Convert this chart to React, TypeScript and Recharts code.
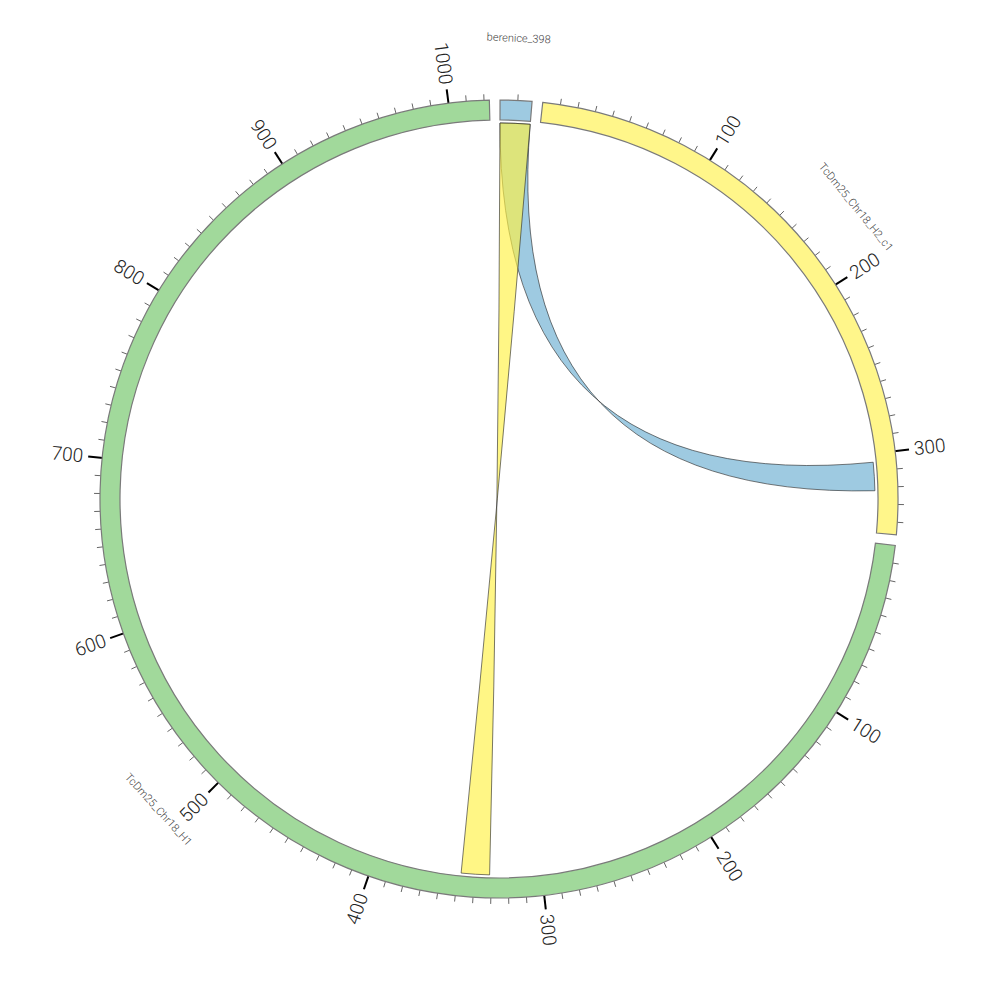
import React from 'react';
import { PieChart, Pie, Cell } from 'recharts';

// ---- data ----
const segmentNames = ['berenice_398', 'TcDm25_Chr18_H2_c1', 'TcDm25_Chr18_H1'];
const segmentLengths = [18, 347, 1023];
const segmentColors = ['#9ecae1', '#fff68a', '#a1d99b'];

const linkFromSeg = ['berenice_398', 'berenice_398'];
const linkFromStart = [0, 0];
const linkFromEnd = [18, 18];
const linkToSeg = ['TcDm25_Chr18_H2_c1', 'TcDm25_Chr18_H1'];
const linkToStart = [322, 348];
const linkToEnd = [305, 331];
const linkColors = ['#9ecae1', 'rgb(255,241,67)'];
const linkOpacity = [1, 0.65];

const minorTickStep = 10;
const majorTickStep = 100;

// ---- layout ----
const W = 1000;
const H = 1000;
const CX = 491;
const CY = 491;
const R_OUT = 399;
const R_IN = 379;
const R_LINK = 376;
const GAP = 6;
const START_OFFSET = 0.15;

const totalUnits = segmentLengths.reduce((a, b) => a + b, 0) + GAP * segmentLengths.length;
const degPerUnit = 360 / totalUnits;

const pieData: { name: string; value: number; gap: boolean; color: string }[] = [];
segmentNames.forEach((n, i) => {
  pieData.push({ name: n, value: segmentLengths[i], gap: false, color: segmentColors[i] });
  pieData.push({ name: 'gap' + i, value: GAP, gap: true, color: 'none' });
});

function segStart(i: number) {
  let u = 0;
  for (let j = 0; j < i; j++) u += segmentLengths[j] + GAP;
  return START_OFFSET + u * degPerUnit;
}
function angleOf(seg: string, pos: number) {
  const i = segmentNames.indexOf(seg);
  return segStart(i) + pos * degPerUnit;
}
function pt(theta: number, r: number) {
  const a = (theta * Math.PI) / 180;
  return [CX + r * Math.sin(a), CY - r * Math.cos(a)];
}

function ribbonPath(k: number) {
  const s0 = angleOf(linkFromSeg[k], linkFromStart[k]);
  const s1 = angleOf(linkFromSeg[k], linkFromEnd[k]);
  const t0 = angleOf(linkToSeg[k], linkToStart[k]);
  const t1 = angleOf(linkToSeg[k], linkToEnd[k]);
  const r = R_LINK;
  const [x0, y0] = pt(s0, r);
  const [x1, y1] = pt(s1, r);
  const [x2, y2] = pt(t0, r);
  const [x3, y3] = pt(t1, r);
  const sw1 = s1 >= s0 ? 1 : 0;
  const sw2 = t1 >= t0 ? 1 : 0;
  return `M${x0},${y0} A${r},${r} 0 0 ${sw1} ${x1},${y1} Q${CX},${CY} ${x2},${y2} A${r},${r} 0 0 ${sw2} ${x3},${y3} Q${CX},${CY} ${x0},${y0} Z`;
}

const TICK_FONT = 'Roboto, "DejaVu Sans", sans-serif';

function TicksLayer() {
  const els: React.ReactNode[] = [];
  segmentNames.forEach((seg, i) => {
    for (let p = minorTickStep; p <= segmentLengths[i]; p += minorTickStep) {
      const th = angleOf(seg, p);
      const major = p % majorTickStep === 0;
      const [xa, ya] = pt(th, R_OUT - (major ? 1 : 0));
      const [xb, yb] = pt(th, R_OUT + (major ? 14 : 6));
      els.push(
        <line key={`t-${i}-${p}`} x1={xa} y1={ya} x2={xb} y2={yb}
          stroke={major ? '#000' : '#666'} strokeWidth={major ? 2 : 1} />
      );
      if (major) {
        const [lx, ly] = pt(th, 418);
        const right = th < 180;
        const rot = right ? th - 90 : th - 270;
        els.push(
          <text key={`l-${i}-${p}`} x={lx} y={ly} transform={`rotate(${rot} ${lx} ${ly})`}
            textAnchor={right ? 'start' : 'end'} dominantBaseline="central"
            fontFamily={TICK_FONT} fontWeight={300} fontSize={19} fill="#222">
            {p}
          </text>
        );
      }
    }
    const mid = angleOf(seg, segmentLengths[i] / 2);
    const [nx, ny] = pt(mid, 461);
    const nrot = mid > 90 && mid < 270 ? mid - 180 : mid;
    els.push(
      <text key={`n-${i}`} x={nx} y={ny} transform={`rotate(${nrot} ${nx} ${ny})`}
        textAnchor="middle" dominantBaseline="central"
        fontFamily={TICK_FONT} fontWeight={300} fontSize={11} fill="#444">
        {seg}
      </text>
    );
  });
  return <g>{els}</g>;
}

function RibbonsLayer() {
  return (
    <g>
      {linkColors.map((c, k) => (
        <path key={k} d={ribbonPath(k)} fill={c} fillOpacity={linkOpacity[k]}
          stroke="#2a2a2a" strokeWidth={0.7} strokeOpacity={0.9} />
      ))}
    </g>
  );
}

export default function App() {
  return (
    <PieChart width={W} height={H} margin={{ top: 0, right: 0, bottom: 0, left: 0 }}>
      <RibbonsLayer />
      <Pie
        data={pieData}
        dataKey="value"
        nameKey="name"
        cx={CX}
        cy={CY}
        innerRadius={R_IN}
        outerRadius={R_OUT}
        startAngle={90 - START_OFFSET}
        endAngle={90 - START_OFFSET - 360}
        paddingAngle={0}
        isAnimationActive={false}
        labelLine={false}
      >
        {pieData.map((d, i) => (
          <Cell key={i} fill={d.color} stroke={d.gap ? 'none' : '#7a7a7a'} strokeWidth={d.gap ? 0 : 1.2} />
        ))}
      </Pie>
      <TicksLayer />
    </PieChart>
  );
}
